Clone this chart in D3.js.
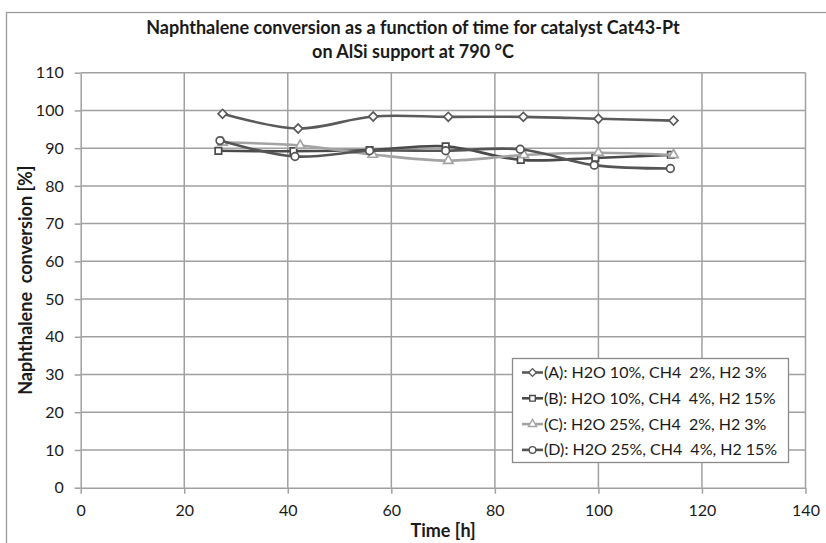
<!DOCTYPE html>
<html>
<head>
<meta charset="utf-8">
<script src="https://cdn.jsdelivr.net/npm/d3@7"></script>
<style>
  html, body { margin: 0; padding: 0; background: #fff; }
  svg text { font-family: Lato, "Open Sans", sans-serif; fill: #1a1a1a; }
</style>
</head>
<body>
<svg id="chart" width="826" height="543"></svg>
<script>
// Time [h] and naphthalene conversion [%] for each feed composition
const timeA = [27.4, 42.0, 56.5, 71.0, 85.5, 100.0, 114.5];
const convA = [99.1, 95.2, 98.4, 98.3, 98.3, 97.8, 97.3];
const timeB = [26.6, 41.1, 55.8, 70.5, 85.0, 99.4, 114.0];
const convB = [89.3, 89.2, 89.5, 90.5, 86.9, 87.4, 88.2];
const timeC = [27.4, 42.4, 56.4, 71.0, 85.6, 100.0, 114.5];
const convC = [91.5, 90.7, 88.3, 86.7, 88.2, 88.8, 88.2];
const timeD = [26.9, 41.4, 55.8, 70.5, 84.9, 99.2, 113.9];
const convD = [92.0, 87.8, 89.3, 89.3, 89.7, 85.5, 84.6];

const seriesNames = [
  "(A): H2O 10%, CH4  2%, H2 3%",
  "(B): H2O 10%, CH4  4%, H2 15%",
  "(C): H2O 25%, CH4  2%, H2 3%",
  "(D): H2O 25%, CH4  4%, H2 15%"
];
const xTicks = [0, 20, 40, 60, 80, 100, 120, 140];
const yTicks = [0, 10, 20, 30, 40, 50, 60, 70, 80, 90, 100, 110];

const titleLines = [
  "Naphthalene conversion as a function of time for catalyst Cat43-Pt",
  "on AlSi support at 790 °C"
];

// a diamond is drawn as a square turned by 45 degrees
const series = [
  { name: seriesNames[0], t: timeA, v: convA, color: "#5a5a5a", symbol: d3.symbolSquare, rot: 45, size: 40 },
  { name: seriesNames[1], t: timeB, v: convB, color: "#4a4a4a", symbol: d3.symbolSquare, rot: 0, size: 42 },
  { name: seriesNames[2], t: timeC, v: convC, color: "#a3a3a3", symbol: d3.symbolTriangle, rot: 0, size: 38 },
  { name: seriesNames[3], t: timeD, v: convD, color: "#555555", symbol: d3.symbolCircle, rot: 0, size: 46 }
];

const svg = d3.select("#chart");
const plot = { left: 80.7, right: 805.5, top: 72.7, bottom: 487.7 };

const x = d3.scaleLinear().domain([0, 140]).range([plot.left, plot.right]);
const y = d3.scaleLinear().domain([0, 110]).range([plot.bottom, plot.top]);

// outer chart frame
svg.append("rect")
  .attr("x", 6.5).attr("y", 12.5).attr("width", 830).attr("height", 540)
  .attr("fill", "none").attr("stroke", "#9a9a9a").attr("stroke-width", 1.3);

// title
const title = svg.append("text")
  .attr("text-anchor", "middle")
  .style("font-weight", "bold").style("font-size", "18px");
titleLines.forEach((line, i) => {
  title.append("tspan").attr("x", 413).attr("y", 34 + i * 24).text(line);
});

const gridColor = "#a0a0a0";

// gridlines
svg.append("g").selectAll("line.gx").data(xTicks.slice(1)).join("line")
  .attr("x1", d => x(d)).attr("x2", d => x(d))
  .attr("y1", plot.top).attr("y2", plot.bottom)
  .attr("stroke", gridColor).attr("stroke-width", 1.5);
svg.append("g").selectAll("line.gy").data(yTicks.slice(1)).join("line")
  .attr("x1", plot.left).attr("x2", plot.right)
  .attr("y1", d => y(d)).attr("y2", d => y(d))
  .attr("stroke", gridColor).attr("stroke-width", 1.5);

// axes
const xAxis = svg.append("g")
  .attr("transform", `translate(0,${plot.bottom})`)
  .call(d3.axisBottom(x).tickValues(xTicks).tickSize(6).tickSizeOuter(0).tickPadding(11));
const yAxis = svg.append("g")
  .attr("transform", `translate(${plot.left},0)`)
  .call(d3.axisLeft(y).tickValues(yTicks).tickSize(6).tickSizeOuter(0).tickPadding(11));
[xAxis, yAxis].forEach(g => {
  g.select(".domain").attr("stroke", gridColor).attr("stroke-width", 1.5);
  g.selectAll(".tick line").attr("stroke", gridColor).attr("stroke-width", 1.5);
  g.selectAll(".tick text").style("font-size", "16px").attr("fill", "#1a1a1a");
});

// axis titles
svg.append("text")
  .attr("x", x(70)).attr("y", 537)
  .attr("text-anchor", "middle")
  .style("font-weight", "bold").style("font-size", "18px")
  .text("Time [h]");
svg.append("text")
  .attr("transform", `translate(32,${y(55)}) rotate(-90)`)
  .attr("text-anchor", "middle")
  .style("font-weight", "bold").style("font-size", "18px")
  .style("white-space", "pre")
  .text("Naphthalene  conversion [%]");

// smoothed series lines and markers
const line = d3.line()
  .x(d => x(d[0])).y(d => y(d[1]))
  .curve(d3.curveCatmullRom.alpha(0.5));

series.forEach(s => {
  const pts = s.t.map((t, i) => [t, s.v[i]]);
  svg.append("path")
    .datum(pts)
    .attr("d", line)
    .attr("fill", "none")
    .attr("stroke", s.color)
    .attr("stroke-width", 2.6);
  svg.append("g").selectAll("path").data(pts).join("path")
    .attr("transform", d => `translate(${x(d[0])},${y(d[1])}) rotate(${s.rot})`)
    .attr("d", d3.symbol(s.symbol, s.size))
    .attr("fill", "#fff")
    .attr("stroke", s.color)
    .attr("stroke-width", 1.7);
});

// legend
const lg = { x: 512, y: 358, w: 276, h: 104, row: 25.8 };
svg.append("rect")
  .attr("x", lg.x + 0.5).attr("y", lg.y + 0.5)
  .attr("width", lg.w).attr("height", lg.h)
  .attr("fill", "#fff").attr("stroke", "#8a8a8a").attr("stroke-width", 1.3);
series.forEach((s, i) => {
  const cy = lg.y + 14.5 + i * lg.row;
  svg.append("line")
    .attr("x1", lg.x + 10).attr("x2", lg.x + 31)
    .attr("y1", cy).attr("y2", cy)
    .attr("stroke", s.color).attr("stroke-width", 2.6);
  svg.append("path")
    .attr("transform", `translate(${lg.x + 20.5},${cy}) rotate(${s.rot})`)
    .attr("d", d3.symbol(s.symbol, s.size * 0.75))
    .attr("fill", "#fff").attr("stroke", s.color).attr("stroke-width", 1.4);
  svg.append("text")
    .attr("x", lg.x + 32).attr("y", cy + 5.5)
    .style("font-size", "16px")
    .style("white-space", "pre")
    .text(s.name);
});
</script>
</body>
</html>
